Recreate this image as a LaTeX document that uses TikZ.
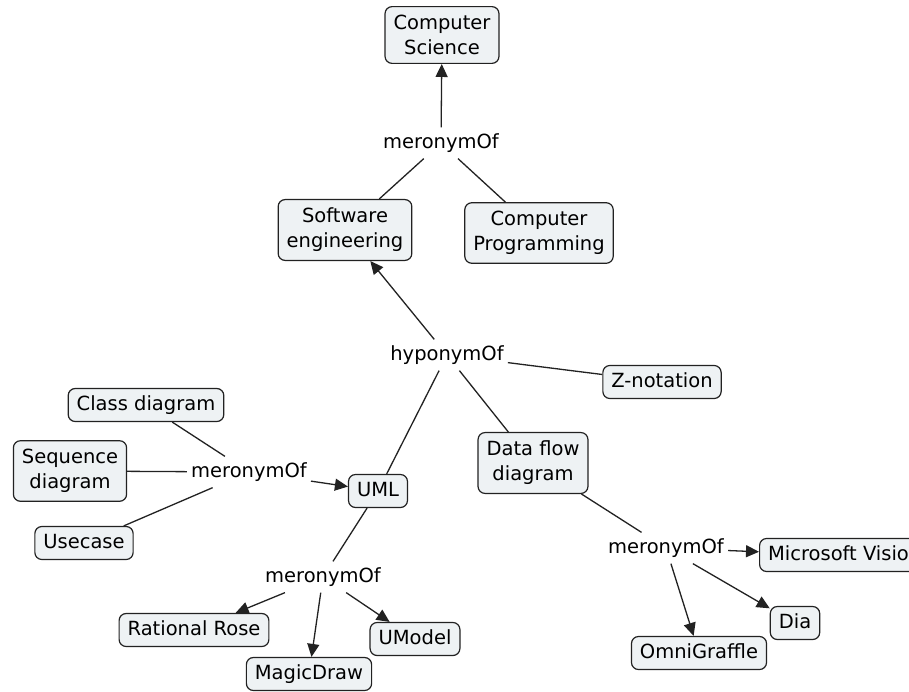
\documentclass[tikz,border=0pt]{standalone}
\usepackage{fontspec}
\setmainfont{DejaVu Sans}
\usetikzlibrary{arrows.meta}
\definecolor{boxfill}{HTML}{EEF2F4}
\definecolor{edge}{HTML}{222222}
\tikzset{
  concept/.style={draw=edge, line width=1.2pt, fill=boxfill, rounded corners=7pt,
    font=\fontsize{19.5}{25}\selectfont, inner xsep=8.5pt, inner ysep=7pt,
    text height=14.5pt, text depth=4.5pt},
  concept2/.style={draw=edge, line width=1.2pt, fill=boxfill, rounded corners=7pt,
    font=\fontsize{19.5}{25}\selectfont, inner xsep=8.5pt, inner ysep=8.5pt, align=center},
  lbl/.style={font=\fontsize{19.5}{25}\selectfont, inner xsep=4pt, inner ysep=6pt},
  conn/.style={draw=edge, line width=1.3pt},
  arr/.style={conn, -{Triangle[length=13pt,width=12pt]}},
}
\begin{document}
\begin{tikzpicture}[x=1pt,y=-1pt]
\useasboundingbox (0,0) rectangle (909,691);
\fill[white] (0,0) rectangle (909,691);
\clip (0,0) rectangle (909,691);
% concepts
\node[concept2] (cs) at (442,35) {Computer\\Science};
\node[concept2] (se) at (345,230) {Software\\engineering};
\node[concept2] (cp) at (539,233) {Computer\\Programming};
\node[concept] (zn) at (662,382) {Z-notation};
\node[concept] (cd) at (146,405) {Class diagram};
\node[concept2] (sd) at (70,471) {Sequence\\diagram};
\node[concept] (uml) at (378,491) {UML};
\node[concept] (uc) at (84,543) {Usecase};
\node[concept2] (dfd) at (533,463) {Data flow\\diagram};
\node[concept, anchor=west] (mv) at (759,555) {Microsoft Visio};
\node[concept] (rr) at (194,630) {Rational Rose};
\node[concept] (um) at (415,639) {UModel};
\node[concept] (md) at (309,674) {MagicDraw};
\node[concept] (dia) at (795,623) {Dia};
\node[concept] (og) at (699,653) {OmniGraffle};
% linking phrases
\node[lbl] (m1) at (441,143) {meronymOf};
\node[lbl] (h1) at (447,355) {hyponymOf};
\node[lbl] (m2) at (249,472) {meronymOf};
\node[lbl] (m3) at (323,577) {meronymOf};
\node[lbl] (m4) at (666,548) {meronymOf};
% connectors
\draw[arr] (m1) -- (cs);
\draw[conn] (se) -- (m1);
\draw[conn] (cp) -- (m1);
\draw[arr] (h1) -- (se);
\draw[conn] (uml) -- (h1);
\draw[conn] (dfd) -- (h1);
\draw[conn] (zn) -- (h1);
\draw[conn] (cd) -- (m2);
\draw[conn] (sd) -- (m2);
\draw[conn] (uc) -- (m2);
\draw[arr] (m2) -- (uml);
\draw[conn] (uml) -- (m3);
\draw[arr] (m3) -- (rr);
\draw[arr] (m3) -- (md);
\draw[arr] (m3) -- (um);
\draw[conn] (dfd) -- (m4);
\draw[arr] (m4) -- (mv);
\draw[arr] (m4) -- (dia);
\draw[arr] (m4) -- (og);
\end{tikzpicture}
\end{document}
